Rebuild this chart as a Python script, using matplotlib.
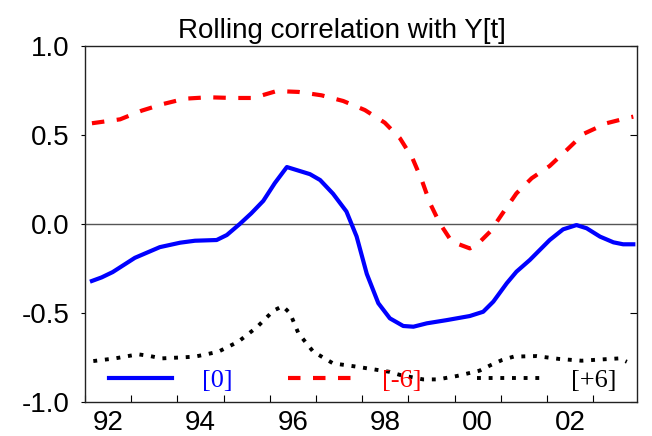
import matplotlib
matplotlib.use("Agg")
import matplotlib.pyplot as plt
from matplotlib.ticker import FixedLocator, FormatStrFormatter

# valeurs (années décimales)
t_lag0 = [1992.15, 1992.36, 1992.60, 1993.08, 1993.62, 1994.06, 1994.38, 1994.85,
          1995.07, 1995.35, 1995.60, 1995.86, 1996.11, 1996.37, 1996.87, 1997.09,
          1997.37, 1997.66, 1997.88, 1998.10, 1998.35, 1998.60, 1998.89, 1999.11,
          1999.40, 1999.83, 2000.33, 2000.62, 2000.84, 2001.13, 2001.34, 2001.63,
          2002.06, 2002.35, 2002.64, 2002.86, 2003.15, 2003.44, 2003.65, 2003.87]
corr_lag0 = [-0.32, -0.30, -0.27, -0.19, -0.13, -0.105, -0.094, -0.09,
             -0.062, 0.00, 0.06, 0.13, 0.23, 0.32, 0.28, 0.247,
             0.17, 0.07, -0.07, -0.28, -0.445, -0.53, -0.573, -0.577,
             -0.558, -0.54, -0.517, -0.493, -0.436, -0.333, -0.268, -0.202,
             -0.09, -0.03, -0.006, -0.024, -0.071, -0.103, -0.114, -0.114]

t_lead6 = [1992.15, 1992.76, 1993.23, 1993.69, 1994.16, 1994.67, 1995.18, 1995.64,
           1996.15, 1996.62, 1997.12, 1997.59, 1998.06, 1998.49, 1998.82, 1999.09,
           1999.29, 1999.47, 1999.68, 1999.94, 2000.33, 2000.48, 2000.77, 2001.09,
           2001.34, 2001.67, 2002.06, 2002.43, 2002.79, 2003.29, 2003.76, 2003.87]
corr_lead6 = [0.566, 0.588, 0.637, 0.674, 0.704, 0.712, 0.708, 0.708,
              0.747, 0.742, 0.723, 0.691, 0.64, 0.569, 0.481, 0.369,
              0.247, 0.116, 0.004, -0.099, -0.137, -0.118, -0.043, 0.079,
              0.172, 0.257, 0.326, 0.416, 0.506, 0.566, 0.597, 0.603]

t_lag6 = [1992.18, 1992.65, 1993.15, 1993.41, 1993.66, 1994.13, 1994.38, 1994.63,
          1994.89, 1995.32, 1995.72, 1996.08, 1996.28, 1996.44, 1996.62, 1996.94,
          1997.37, 1997.84, 1998.58, 1998.82, 1999.32, 1999.64, 2000.05, 2000.54,
          2000.79, 2001.03, 2001.28, 2001.77, 2002.26, 2002.75, 2003.24, 2003.57,
          2003.73]
corr_lag6 = [-0.77, -0.755, -0.732, -0.742, -0.755, -0.749, -0.745, -0.732,
             -0.717, -0.661, -0.58, -0.487, -0.461, -0.502, -0.614, -0.717,
             -0.783, -0.80, -0.83, -0.848, -0.873, -0.873, -0.854, -0.824,
             -0.792, -0.764, -0.745, -0.742, -0.758, -0.768, -0.76, -0.755,
             -0.774]

labels = ["[0]", "[-6]", "[+6]"]
year_ticks = list(range(1992, 2004))
label_pos = [1992.5, 1994.5, 1996.5, 1998.5, 2000.5, 2002.5]
label_txt = ["92", "94", "96", "98", "00", "02"]
y_ticks = [-1.0, -0.5, 0.0, 0.5, 1.0]

plt.rcParams['font.family'] = ['Liberation Sans', 'DejaVu Sans']

fig = plt.figure(figsize=(6.52, 4.36), dpi=100)
ax = fig.add_axes([85 / 652, 34 / 436, 552 / 652, 356 / 436])

ax.axhline(0, color='#555555', lw=1.0, zorder=1)
ax.plot(t_lag0, corr_lag0, color='#0000ff', lw=3, label=labels[0], zorder=3)
ax.plot(t_lead6, corr_lead6, color='#ff0000', lw=3, dashes=(3, 3),
        label=labels[1], zorder=3)
ax.plot(t_lag6, corr_lag6, color='black', lw=2.8, dashes=(1, 2),
        label=labels[2], zorder=3)

ax.set_xlim(1992.0, 2003.95)
ax.set_ylim(-1.0, 1.0)

# ticks aux frontières d'années, étiquettes au milieu
ax.xaxis.set_major_locator(FixedLocator(year_ticks))
ax.xaxis.set_major_formatter(plt.NullFormatter())
ax.xaxis.set_minor_locator(FixedLocator(label_pos))
ax.set_xticklabels(label_txt, minor=True)
ax.tick_params(axis='x', which='major', direction='in', length=5, width=0.8)
ax.tick_params(axis='x', which='minor', length=0, pad=6, labelsize=20)

ax.set_yticks(y_ticks)
ax.yaxis.set_major_formatter(FormatStrFormatter('%.1f'))
ax.tick_params(axis='y', direction='out', length=3, width=0.8, pad=8,
               labelsize=20)
ax2 = ax.secondary_yaxis('right')
ax2.set_yticks(y_ticks)
ax2.tick_params(direction='in', length=5, width=0.8, labelright=False)
ax2.spines['right'].set_visible(False)

for s in ax.spines.values():
    s.set_color('#222222')
    s.set_linewidth(1.0)

ax.set_title("Rolling correlation with Y[t]", fontsize=20, x=0.466, pad=6)

ax.legend(loc='lower left', bbox_to_anchor=(0.0, -0.04), ncol=3,
          frameon=False, labelcolor='linecolor',
          prop={'family': 'Liberation Serif', 'size': 19},
          handlelength=2.4, handletextpad=1.15, columnspacing=2.1)

fig.savefig("out.png", dpi=100)
